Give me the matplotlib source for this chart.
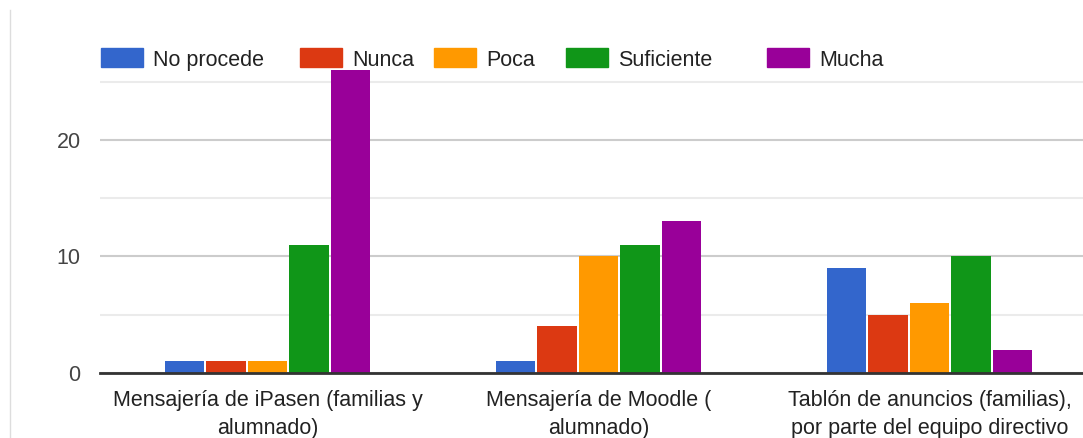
import numpy as np
import matplotlib
matplotlib.use('Agg')
import matplotlib.pyplot as plt
from matplotlib.lines import Line2D
from matplotlib.patches import Rectangle

plt.rcParams['font.family'] = ['Liberation Sans', 'DejaVu Sans']

# Data
categories = ['Mensajería de iPasen (familias y\nalumnado)',
              'Mensajería de Moodle (\nalumnado)',
              'Tablón de anuncios (familias),\npor parte del equipo directivo']
series = ['No procede', 'Nunca', 'Poca', 'Suficiente', 'Mucha']
no_procede = [1, 1, 9]
nunca = [1, 4, 5]
poca = [1, 10, 6]
suficiente = [11, 11, 10]
mucha = [26, 13, 2]
colors = ['#3366CC', '#DC3912', '#FF9900', '#109618', '#990099']

values = [no_procede, nunca, poca, suficiente, mucha]

W, H = 1083, 438
fig = plt.figure(figsize=(W / 100, H / 100), dpi=100)
ax = fig.add_axes([100 / W, 65 / H, 993 / W, 303 / H])

x = np.arange(len(categories))
stride = 0.125
bw = 0.119
for i, (name, vals, c) in enumerate(zip(series, values, colors)):
    ax.bar(x + (i - 2) * stride, vals, width=bw, color=c, label=name,
           zorder=3, clip_on=False)

ax.set_xlim(-0.506, 2.494)
ax.set_ylim(0, 26)

# gridlines
ax.set_yticks([0, 10, 20])
ax.set_yticks([5, 15, 25], minor=True)
ax.grid(axis='y', which='major', color='#cccccc', linewidth=1.5, zorder=0)
ax.grid(axis='y', which='minor', color='#ebebeb', linewidth=1.5, zorder=0)
ax.axhline(0, color='#333333', linewidth=2, zorder=4, clip_on=False)

for s in ax.spines.values():
    s.set_visible(False)

ax.set_xticks(x)
ax.set_xticklabels(categories, fontsize=15.5, color='#222222', linespacing=1.45)
ax.tick_params(axis='x', length=0, pad=12)
ax.tick_params(axis='y', which='both', length=0, pad=14, labelsize=15.5,
               labelcolor='#444444')

# legend along the top, placed by hand like the original
legend_x = [101, 300, 434, 566, 767]
for lx, name, c in zip(legend_x, series, colors):
    fig.add_artist(Rectangle((lx / W, 1 - 67 / H), 42 / W, 19 / H,
                             transform=fig.transFigure, color=c))
    fig.text((lx + 52) / W, 1 - 58 / H, name, fontsize=15.5, color='#222222',
             ha='left', va='center_baseline')

# card border on the left
fig.add_artist(Line2D([10 / W, 10 / W], [0, 1 - 10 / H], transform=fig.transFigure,
                      color='#dddddd', linewidth=1))

fig.savefig('out.png', dpi=100, facecolor='white')
